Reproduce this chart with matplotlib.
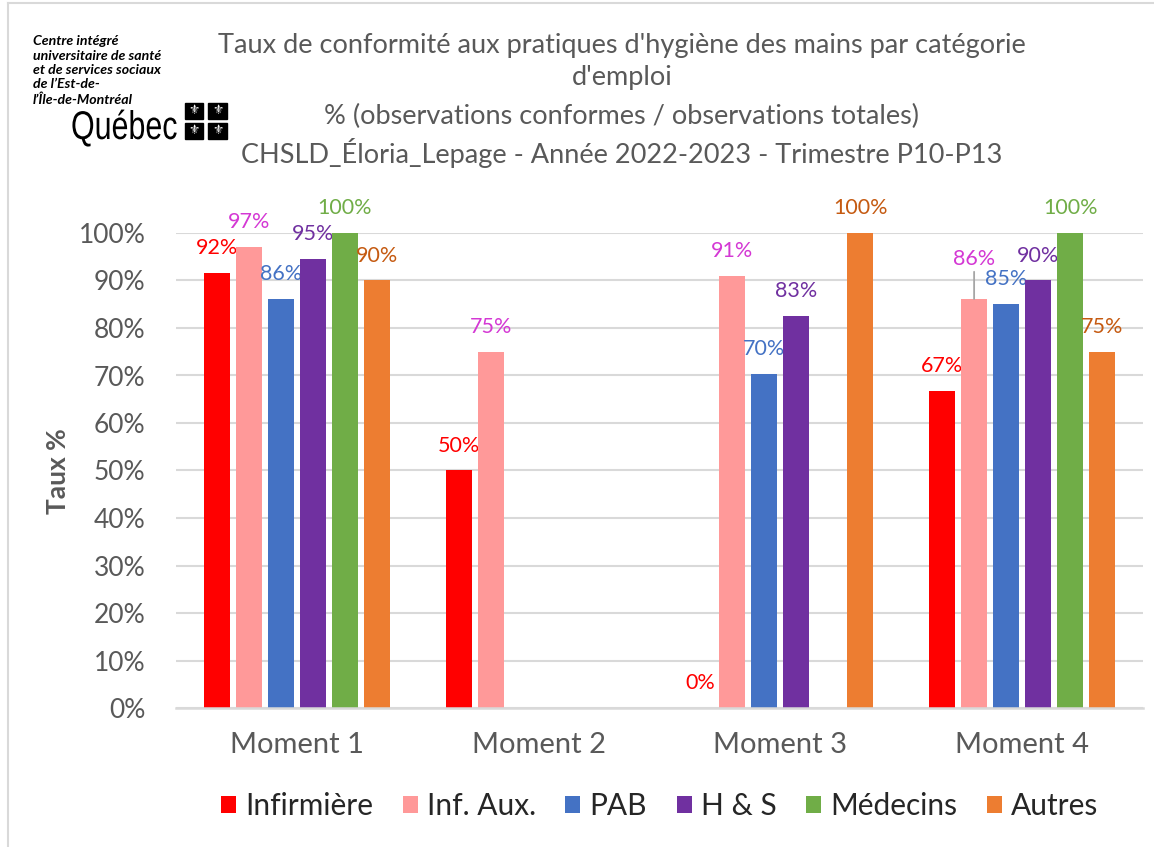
import numpy as np
import matplotlib
matplotlib.use('Agg')
import matplotlib.pyplot as plt
from matplotlib.patches import Rectangle, PathPatch
from matplotlib.textpath import TextPath
from matplotlib.font_manager import FontProperties
from matplotlib.transforms import Affine2D

plt.rcParams['font.family'] = ['Lato', 'DejaVu Sans']

moments = ['Moment 1', 'Moment 2', 'Moment 3', 'Moment 4']
series = ['Infirmière', 'Inf. Aux.', 'PAB', 'H & S', 'Médecins', 'Autres']
# percentages shown on the labels (None = no observation)
infirmiere = [92, 50, 0, 67]
inf_aux = [97, 75, 91, 86]
pab = [86, None, 70, 85]
h_s = [95, None, 83, 90]
medecins = [100, None, None, 100]
autres = [90, None, 100, 75]
values = [infirmiere, inf_aux, pab, h_s, medecins, autres]
# bar heights (unrounded)
real = [[91.6, 50, 0, 66.7], [97.1, 75, 90.9, 86.1], [86.2, None, 70.3, 85.1],
        [94.6, None, 82.6, 90.0], [100, None, None, 100], [90.0, None, 100, 75.0]]

bar_colors = ['#FF0000', '#FF9999', '#4472C4', '#7030A0', '#70AD47', '#ED7D31']
label_colors = ['#FF0000', '#D438D4', '#4472C4', '#7030A0', '#70AD47', '#C55A11']
grey = '#595959'

fig = plt.figure(figsize=(11.54, 8.47), dpi=100)
ax = fig.add_axes([176 / 1154, 1 - 708 / 847, 967 / 1154, 475 / 847])

x = np.arange(len(moments))
pitch = 0.1324
width = 0.1076
px = 0.72  # points per pixel

for i, name in enumerate(series):
    xs = x + (i - 2.5) * pitch
    for j in range(len(moments)):
        v = real[i][j]
        if v is None:
            continue
        ax.bar(xs[j], v, width, color=bar_colors[i], zorder=3,
               label=name if j == 0 else None)
        off = 25
        arrow = None
        if i == 1 and j == 3:
            off = 40
            arrow = dict(arrowstyle='-', color='#A6A6A6', lw=1.3,
                         shrinkA=0, shrinkB=0)
        ax.annotate('%d%%' % values[i][j], (xs[j], v), xytext=(0, off * px),
                    textcoords='offset points', ha='center', va='center',
                    fontsize=15.5, color=label_colors[i],
                    annotation_clip=False, arrowprops=arrow)

ax.set_xlim(-0.5, 3.5)
ax.set_ylim(0, 100)
ax.set_yticks(np.arange(0, 101, 10))
ax.set_yticklabels(['%d%%' % t for t in range(0, 101, 10)])
ax.set_xticks(x)
ax.set_xticklabels(moments)
ax.tick_params(axis='y', length=0, labelsize=19, labelcolor=grey, pad=22)
ax.tick_params(axis='x', length=0, labelsize=21, labelcolor=grey, pad=17)
ax.grid(axis='y', color='#D9D9D9', linewidth=1.5, zorder=0)
for s in ['top', 'right', 'left']:
    ax.spines[s].set_visible(False)
ax.spines['bottom'].set_color('#D9D9D9')
ax.spines['bottom'].set_linewidth(1.8)
ax.spines['bottom'].set_zorder(4)

fig.text(58 / 1154, 1 - 471 / 847, 'Taux %', rotation=90, ha='center', va='center',
         fontsize=19, fontweight='bold', color=grey)

handles, labels = ax.get_legend_handles_labels()
ax.legend(handles, labels, loc='center', bbox_to_anchor=(0.5, -0.207), ncol=6,
          frameon=False, fontsize=21.5, handlelength=0.5, handleheight=0.5,
          handletextpad=0.3, columnspacing=1.0, labelcolor='#262626')

# title
tx = 622 / 1154
title_lines = [(46, "Taux de conformité aux pratiques d'hygiène des mains par catégorie"),
               (77, "d'emploi"),
               (116, '% (observations conformes / observations totales)'),
               (153, 'CHSLD_Éloria_Lepage - Année 2022-2023 - Trimestre P10-P13')]
for yy, t in title_lines:
    fig.text(tx, 1 - yy / 847, t, ha='center', va='center', fontsize=19.5, color=grey)

# logo
fig.text(33 / 1154, 1 - 35 / 847,
         "Centre intégré\nuniversitaire de santé\net de services sociaux\nde l’Est-de-\nl’Île-de-Montréal",
         ha='left', va='top', fontsize=10.2, fontweight='bold', fontstyle='italic',
         color='black', linespacing=1.25)
qpath = TextPath((0, 0), 'Québec', size=40, prop=FontProperties(family='Liberation Sans'))
fig.add_artist(PathPatch(qpath, transform=Affine2D().scale(0.76, 1.0).translate(71, 847 - 139),
                         facecolor='black', edgecolor='none'))
for (sx, sy, w, h) in [(185, 103, 18, 16), (208, 103, 19, 16), (185, 123, 18, 16), (208, 123, 19, 16)]:
    fig.patches.append(Rectangle((sx / 1154, 1 - (sy + h) / 847), w / 1154, h / 847,
                                 transform=fig.transFigure, color='black'))
    fig.text((sx + w / 2) / 1154, 1 - (sy + h / 2) / 847, '⚜', ha='center', va='center',
             fontsize=9, color='white', family='DejaVu Sans')

# chart border
fig.add_artist(plt.Line2D([8 / 1154, 8 / 1154], [0, 1 - 3 / 847], transform=fig.transFigure,
                          color='#D9D9D9', lw=1.5))
fig.add_artist(plt.Line2D([8 / 1154, 1], [1 - 3 / 847, 1 - 3 / 847], transform=fig.transFigure,
                          color='#D9D9D9', lw=1.5))

fig.savefig('out.png', dpi=100)
